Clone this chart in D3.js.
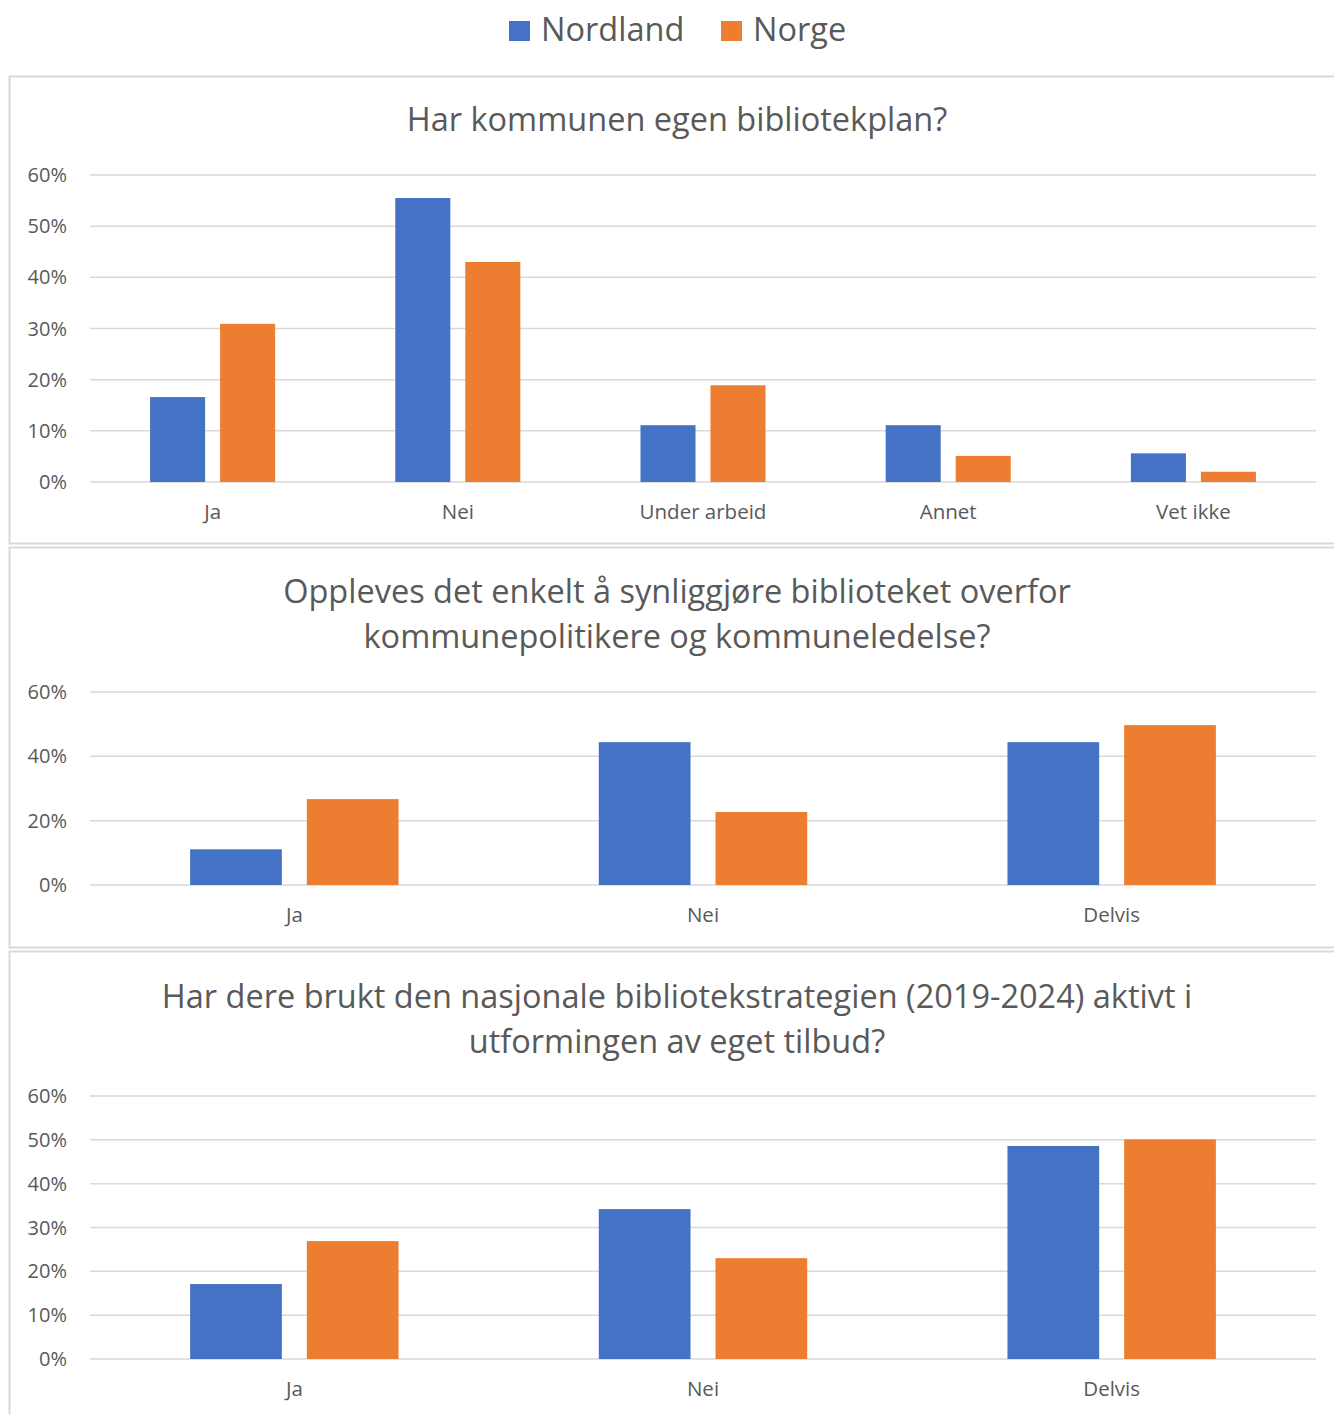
<!DOCTYPE html>
<html>
<head>
<meta charset="utf-8">
<script src="https://cdn.jsdelivr.net/npm/d3@7"></script>
<style>
  body { margin: 0; background: #fff; }
  svg text { font-family: "Open Sans", sans-serif; fill: #595959; }
</style>
</head>
<body>
<div id="canvas"></div>
<script>
// data
const series = ['Nordland', 'Norge'];
const colors = ['#4472C4', '#ED7D31'];

const title1 = ['Har kommunen egen bibliotekplan?'];
const cats1 = ['Ja', 'Nei', 'Under arbeid', 'Annet', 'Vet ikke'];
const nordland1 = [16.6, 55.5, 11.1, 11.1, 5.6];
const norge1 = [30.9, 43.0, 18.9, 5.1, 2.0];
const ticks1 = [0, 10, 20, 30, 40, 50, 60];

const title2 = ['Oppleves det enkelt å synliggjøre biblioteket overfor', 'kommunepolitikere og kommuneledelse?'];
const cats2 = ['Ja', 'Nei', 'Delvis'];
const nordland2 = [11.1, 44.4, 44.4];
const norge2 = [26.7, 22.7, 49.7];
const ticks2 = [0, 20, 40, 60];

const title3 = ['Har dere brukt den nasjonale bibliotekstrategien (2019-2024) aktivt i', 'utformingen av eget tilbud?'];
const cats3 = ['Ja', 'Nei', 'Delvis'];
const nordland3 = [17.1, 34.2, 48.6];
const norge3 = [26.9, 23.0, 50.1];
const ticks3 = [0, 10, 20, 30, 40, 50, 60];

const W = 1334, H = 1414;

const svg = d3.select('#canvas').append('svg')
  .attr('width', W)
  .attr('height', H);

// legend
const legend = svg.append('g');
const legX = [509, 721];
series.forEach(function(s, i){
  legend.append('rect')
    .attr('x', legX[i]).attr('y', 21)
    .attr('width', 21).attr('height', 20)
    .attr('fill', colors[i]);
  legend.append('text')
    .attr('x', legX[i] + 32).attr('y', 41)
    .style('font-size', '32.5px')
    .text(s);
});

function panel(opts){
  const g = svg.append('g');

  g.append('rect')
    .attr('x', 9.5).attr('y', opts.top + 0.5)
    .attr('width', 1340).attr('height', opts.bottom - opts.top)
    .attr('fill', '#fff')
    .attr('stroke', '#d9d9d9')
    .attr('stroke-width', 2);

  // title
  opts.title.forEach(function(line, i){
    g.append('text')
      .attr('x', 677)
      .attr('y', opts.titleY + i * 45)
      .attr('text-anchor', 'middle')
      .style('font-size', '32.5px')
      .text(line);
  });

  const y = d3.scaleLinear().domain([0, 60]).range([opts.y0, opts.y60]);
  const x0 = d3.scaleBand().domain(opts.cats).range([90, 1316])
    .paddingInner(0.49).paddingOuter(0.245);
  const x1 = d3.scaleBand().domain(series).range([0, x0.bandwidth()])
    .paddingInner(0.214);

  // gridlines
  g.selectAll('.grid')
    .data(opts.ticks)
    .enter().append('line')
    .attr('x1', 90).attr('x2', 1316)
    .attr('y1', d => y(d)).attr('y2', d => y(d))
    .attr('stroke', '#d9d9d9')
    .attr('stroke-width', 1.5);

  g.selectAll('.tick')
    .data(opts.ticks)
    .enter().append('text')
    .attr('x', 67)
    .attr('y', d => y(d) + 7)
    .attr('text-anchor', 'end')
    .style('font-size', '20px')
    .text(d => d + '%');

  // bars
  const rows = opts.cats.map(function(c, i){
    return { cat: c, vals: [opts.a[i], opts.b[i]] };
  });
  const grp = g.selectAll('.grp')
    .data(rows)
    .enter().append('g')
    .attr('transform', d => 'translate(' + x0(d.cat) + ',0)');
  grp.selectAll('rect')
    .data(d => d.vals.map((v, j) => ({ s: series[j], v: v, j: j })))
    .enter().append('rect')
    .attr('x', d => x1(d.s))
    .attr('width', x1.bandwidth())
    .attr('y', d => y(d.v))
    .attr('height', d => y(0) - y(d.v))
    .attr('fill', d => colors[d.j]);

  // category labels
  g.selectAll('.cat')
    .data(opts.cats)
    .enter().append('text')
    .attr('x', d => x0(d) + x0.bandwidth() / 2)
    .attr('y', opts.y0 + 37)
    .attr('text-anchor', 'middle')
    .style('font-size', '20.5px')
    .text(d => d);
}

panel({ top: 76, bottom: 543, title: title1, titleY: 131, cats: cats1, a: nordland1, b: norge1, ticks: ticks1, y0: 482, y60: 175 });
panel({ top: 547, bottom: 947, title: title2, titleY: 603, cats: cats2, a: nordland2, b: norge2, ticks: ticks2, y0: 885, y60: 692 });
panel({ top: 951, bottom: 1430, title: title3, titleY: 1008, cats: cats3, a: nordland3, b: norge3, ticks: ticks3, y0: 1359, y60: 1096 });
</script>
</body>
</html>
